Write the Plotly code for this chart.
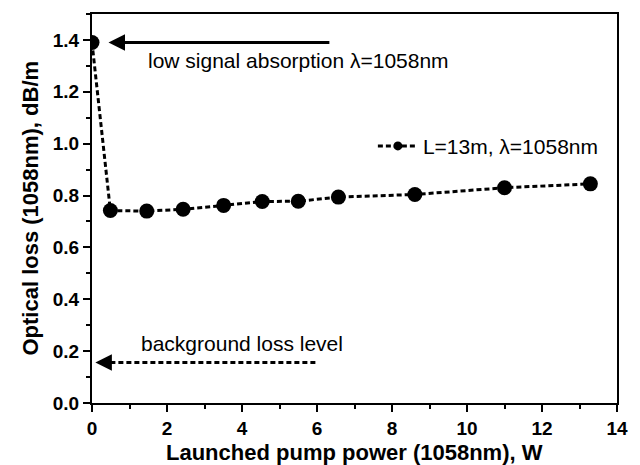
import plotly.graph_objects as go

# Data
power_w = [0.0, 0.49, 1.46, 2.43, 3.51, 4.54, 5.50, 6.57, 8.61, 11.0, 13.29]
loss_db_m = [1.39, 0.742, 0.740, 0.747, 0.762, 0.777, 0.778, 0.794, 0.804, 0.830, 0.845]

series_name = "L=13m, \u03bb=1058nm"
x_title = "Launched pump power (1058nm), W"
y_title = "Optical loss (1058nm), dB/m"
note_top = "low signal absorption \u03bb=1058nm"
note_bottom = "background loss level"

# annotation anchors (data units)
top_arrow_tail = (6.37, 1.39)
top_arrow_tip = (0.44, 1.39)
top_text_pos = (1.43, 1.32)
bg_arrow_tail = (6.0, 0.156)
bg_arrow_tip = (0.09, 0.156)
bg_text_pos = (1.25, 0.23)

FONT = "Arial, 'Liberation Sans', sans-serif"
DASH = "5px,3px"

fig = go.Figure()
fig.add_trace(go.Scatter(
    x=power_w, y=loss_db_m, mode="lines+markers",
    line=dict(color="black", width=3, dash=DASH),
    marker=dict(color="black", size=15),
    showlegend=False,
))
# legend-only entry with a smaller marker
fig.add_trace(go.Scatter(
    x=[None], y=[None], mode="lines+markers", name=series_name,
    line=dict(color="black", width=3, dash=DASH),
    marker=dict(color="black", size=9),
    showlegend=True,
))

axis_common = dict(
    showgrid=False, zeroline=False, showline=True, linecolor="black", linewidth=2,
    mirror=True, ticks="outside", ticklen=7, tickwidth=2, tickcolor="black",
    tickfont=dict(family=FONT, size=19, color="black", weight="bold"),
)
fig.update_xaxes(range=[0, 14], dtick=2, tick0=0,
                 minor=dict(dtick=1, ticks="outside", ticklen=4, tickwidth=2, tickcolor="black"),
                 **axis_common)
fig.update_yaxes(range=[0, 1.5], dtick=0.2, tick0=0, tickformat=".1f",
                 minor=dict(dtick=0.1, ticks="outside", ticklen=4, tickwidth=2, tickcolor="black"),
                 **axis_common)

# solid arrow
fig.add_annotation(x=top_arrow_tip[0], y=top_arrow_tip[1], ax=top_arrow_tail[0], ay=top_arrow_tail[1],
                   xref="x", yref="y", axref="x", ayref="y", text="", showarrow=True,
                   arrowhead=2, arrowsize=1.1, arrowwidth=3, arrowcolor="black")
fig.add_annotation(x=top_text_pos[0], y=top_text_pos[1], xref="x", yref="y", text=note_top,
                   showarrow=False, xanchor="left", yanchor="middle",
                   font=dict(family=FONT, size=21, color="black"))

# dotted arrow: dashed shape + short arrowhead
fig.add_shape(type="line", x0=bg_arrow_tip[0] + 0.4, x1=bg_arrow_tail[0], y0=bg_arrow_tip[1], y1=bg_arrow_tail[1],
              xref="x", yref="y", line=dict(color="black", width=3, dash=DASH))
fig.add_annotation(x=bg_arrow_tip[0], y=bg_arrow_tip[1], ax=bg_arrow_tip[0] + 0.5, ay=bg_arrow_tip[1],
                   xref="x", yref="y", axref="x", ayref="y", text="", showarrow=True,
                   arrowhead=2, arrowsize=1.1, arrowwidth=3, arrowcolor="black")
fig.add_annotation(x=bg_text_pos[0], y=bg_text_pos[1], xref="x", yref="y", text=note_bottom,
                   showarrow=False, xanchor="left", yanchor="middle",
                   font=dict(family=FONT, size=21, color="black"))

# axis titles
fig.add_annotation(x=0.5, y=-0.128, xref="paper", yref="paper", text=x_title, showarrow=False,
                   xanchor="center", yanchor="middle",
                   font=dict(family=FONT, size=22, color="black", weight="bold"))
fig.add_annotation(x=-0.118, y=0.5, xref="paper", yref="paper", text=y_title, showarrow=False,
                   textangle=-90, xanchor="center", yanchor="middle",
                   font=dict(family=FONT, size=22, color="black", weight="bold"))

fig.update_layout(
    width=640, height=465,
    margin=dict(l=92, r=21, t=12, b=62),
    paper_bgcolor="white", plot_bgcolor="white",
    font=dict(family=FONT, color="black"),
    legend=dict(x=0.535, y=0.66, xanchor="left", yanchor="middle",
                bgcolor="rgba(0,0,0,0)", font=dict(family=FONT, size=21, color="black"),
                itemwidth=40),
)

fig.write_html("out.html")
